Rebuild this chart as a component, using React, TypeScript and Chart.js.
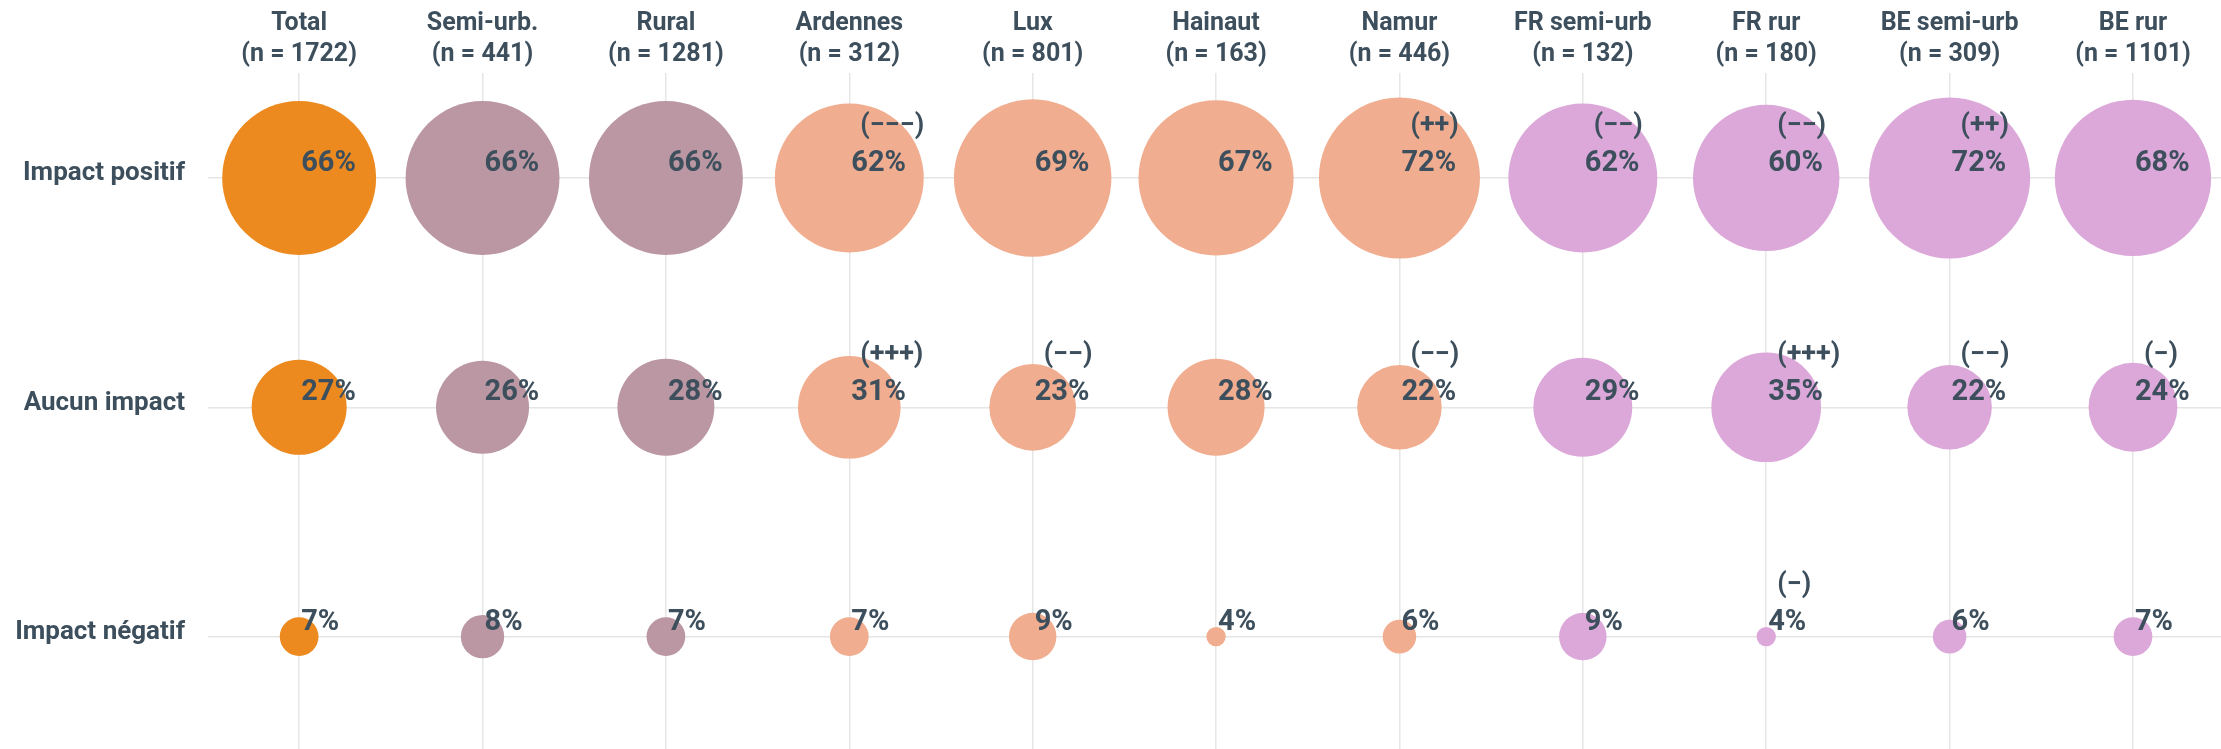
import React, { useEffect, useRef } from 'react';
import { Chart, registerables } from 'chart.js';

Chart.register(...registerables);

// ---- Data ----
const columns = ['Total', 'Semi-urb.', 'Rural', 'Ardennes', 'Lux', 'Hainaut', 'Namur', 'FR semi-urb', 'FR rur', 'BE semi-urb', 'BE rur'];
const sampleSizes = [1722, 441, 1281, 312, 801, 163, 446, 132, 180, 309, 1101];
const rowLabels = ['Impact positif', 'Aucun impact', 'Impact négatif'];
const rowPositions = [3, 2, 1];

const impactPositif = [66, 66, 66, 62, 69, 67, 72, 62, 60, 72, 68];
const aucunImpact = [27, 26, 28, 31, 23, 28, 22, 29, 35, 22, 24];
const impactNegatif = [7, 8, 7, 7, 9, 4, 6, 9, 4, 6, 7];

const sigPositif = ['', '', '', '(−−−)', '', '', '(++)', '(−−)', '(−−)', '(++)', ''];
const sigAucun = ['', '', '', '(+++)', '(−−)', '', '(−−)', '', '(+++)', '(−−)', '(−)'];
const sigNegatif = ['', '', '', '', '', '', '', '', '(−)', '', ''];

const columnGroups = ['total', 'zone', 'zone', 'prov', 'prov', 'prov', 'prov', 'pays', 'pays', 'pays', 'pays'];
const groupColors: Record<string, string> = {
  total: '#EC8A1F',
  zone: '#BA97A2',
  prov: '#F1AD8F',
  pays: '#DBA8D9',
};

const rowValues = [impactPositif, aucunImpact, impactNegatif];
const rowSigs = [sigPositif, sigAucun, sigNegatif];

const TEXT = '#3d4f5c';
const FONT = 'Roboto';
const GRID = '#e6e6e6';

function radiusFor(v: number) {
  return Math.sqrt(94 * Math.max(v - 3, 0.6));
}

const labelPlugin = {
  id: 'bubbleLabels',
  afterDatasetsDraw(chart: any) {
    const ctx = chart.ctx;
    ctx.save();
    ctx.fillStyle = TEXT;
    ctx.textAlign = 'left';
    ctx.textBaseline = 'alphabetic';
    chart.data.datasets.forEach((_ds: any, di: number) => {
      const meta = chart.getDatasetMeta(di);
      meta.data.forEach((el: any, i: number) => {
        const { x, y } = el.getProps(['x', 'y'], true);
        ctx.font = `bold 29px ${FONT}`;
        ctx.fillText(rowValues[di][i] + '%', x + 2, y - 7);
        const s = rowSigs[di][i];
        if (s) {
          ctx.font = `bold 27px ${FONT}`;
          ctx.fillText(s, x + 11, y - 45);
        }
      });
    });
    ctx.restore();
  },
};

function zeroPadding(scale: any) {
  scale.paddingTop = 0;
  scale.paddingBottom = 0;
  scale.paddingLeft = 0;
  scale.paddingRight = 0;
}

export default function App() {
  const ref = useRef<HTMLCanvasElement>(null);

  useEffect(() => {
    document.body.style.margin = '0';
    document.body.style.overflow = 'hidden';
    let chart: Chart | null = null;
    let cancelled = false;

    const build = () => {
      if (cancelled || !ref.current) return;
      chart = new Chart(ref.current, {
        type: 'bubble',
        data: {
          datasets: rowValues.map((vals, di) => ({
            label: rowLabels[di],
            data: vals.map((v, i) => ({ x: i, y: rowPositions[di], r: radiusFor(v) })),
            backgroundColor: columns.map((_, i) => groupColors[columnGroups[i]]),
            borderWidth: 0,
            hoverBorderWidth: 0,
          })),
        },
        options: {
          animation: false,
          responsive: true,
          maintainAspectRatio: false,
          events: [],
          layout: { padding: 0, autoPadding: false },
          plugins: {
            legend: { display: false },
            tooltip: { enabled: false },
          },
          scales: {
            x: {
              type: 'linear',
              position: 'top',
              min: -0.497,
              max: 10.48,
              afterBuildTicks: (scale: any) => {
                scale.ticks = columns.map((_, i) => ({ value: i }));
              },
              afterFit: (scale: any) => {
                scale.height = 73;
                zeroPadding(scale);
              },
              grid: { color: GRID, lineWidth: 1.5, drawTicks: false },
              border: { display: false },
              ticks: {
                autoSkip: false,
                maxRotation: 0,
                minRotation: 0,
                padding: 3,
                color: TEXT,
                font: { family: FONT, size: 25, weight: 'bold', lineHeight: 1.24 },
                callback: (value: any) => {
                  const i = Math.round(Number(value));
                  return [columns[i], `(n = ${sampleSizes[i]})`];
                },
              },
            },
            y: {
              type: 'linear',
              min: 0.51,
              max: 3.4575,
              afterBuildTicks: (scale: any) => {
                scale.ticks = rowPositions.map((p) => ({ value: p }));
              },
              afterFit: (scale: any) => {
                scale.width = 208;
                zeroPadding(scale);
              },
              grid: { color: GRID, lineWidth: 1.5, drawTicks: false },
              border: { display: false },
              ticks: {
                autoSkip: false,
                padding: 23,
                labelOffset: -4,
                color: TEXT,
                font: { family: FONT, size: 26, weight: 'bold' },
                callback: (value: any) => {
                  const idx = rowPositions.indexOf(Math.round(Number(value)));
                  return idx >= 0 ? rowLabels[idx] : '';
                },
              },
            },
          },
        },
        plugins: [labelPlugin],
      } as any);
    };

    if ((document as any).fonts && (document as any).fonts.load) {
      Promise.all([
        (document as any).fonts.load(`bold 25px ${FONT}`),
        (document as any).fonts.load(`bold 29px ${FONT}`),
      ]).then(build, build);
    } else {
      build();
    }

    return () => {
      cancelled = true;
      if (chart) chart.destroy();
    };
  }, []);

  return (
    <div style={{ position: 'relative', width: 2221, height: 749 }}>
      <canvas ref={ref} style={{ display: 'block' }} />
    </div>
  );
}
